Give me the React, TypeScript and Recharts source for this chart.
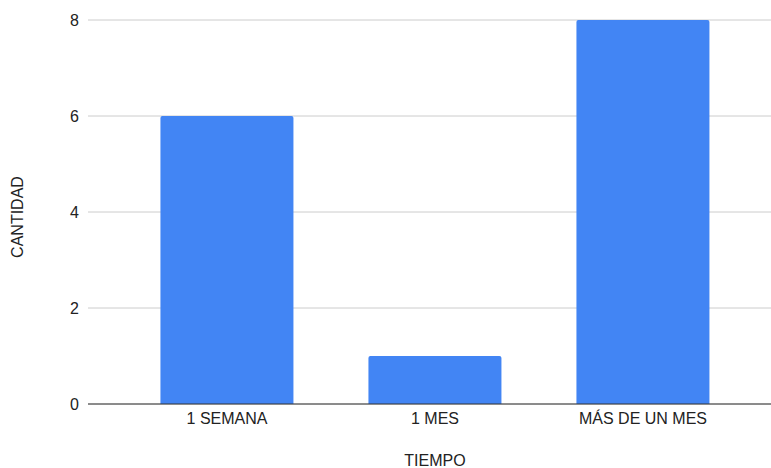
import React from "react";
import {
  BarChart,
  Bar,
  XAxis,
  YAxis,
  CartesianGrid,
} from "recharts";

// Tiempo vs cantidad
const categories = ["1 SEMANA", "1 MES", "MÁS DE UN MES"];
const cantidad = [6, 1, 8];
const yTicks = [0, 2, 4, 6, 8];

const data = categories.map((tiempo, i) => ({ tiempo, cantidad: cantidad[i] }));

const FONT = "'Liberation Sans', Arial, sans-serif";
const tickStyle = { fill: "#222", fontSize: 16, fontFamily: FONT };

const YTitle = () => (
  <text
    x={17}
    y={217}
    transform="rotate(-90 17 217)"
    textAnchor="middle"
    dominantBaseline="central"
    fill="#222"
    fontSize={16}
    fontFamily={FONT}
  >
    CANTIDAD
  </text>
);

const XTitle = () => (
  <text
    x={435}
    y={466}
    textAnchor="middle"
    fill="#222"
    fontSize={16}
    fontFamily={FONT}
  >
    TIEMPO
  </text>
);

export default function App() {
  return (
    <div style={{ position: "absolute", left: 0, top: 0, background: "#fff" }}>
      <BarChart
        width={771}
        height={468}
        data={data}
        margin={{ top: 20, right: 0, left: 28, bottom: 34 }}
        barCategoryGap="18%"
      >
        <CartesianGrid vertical={false} stroke="#cccccc" />
        <XAxis
          dataKey="tiempo"
          padding={{ left: 35, right: 24 }}
          tick={tickStyle}
          tickLine={false}
          tickSize={6}
          tickMargin={3}
          axisLine={{ stroke: "#333" }}
          height={30}
          label={<XTitle />}
        />
        <YAxis
          domain={[0, 8]}
          ticks={yTicks}
          width={60}
          tick={tickStyle}
          tickLine={false}
          tickSize={6}
          tickMargin={3}
          axisLine={false}
          label={<YTitle />}
        />
        <Bar
          dataKey="cantidad"
          fill="#4285F4"
          radius={[2, 2, 0, 0]}
          isAnimationActive={false}
        />
      </BarChart>
    </div>
  );
}
